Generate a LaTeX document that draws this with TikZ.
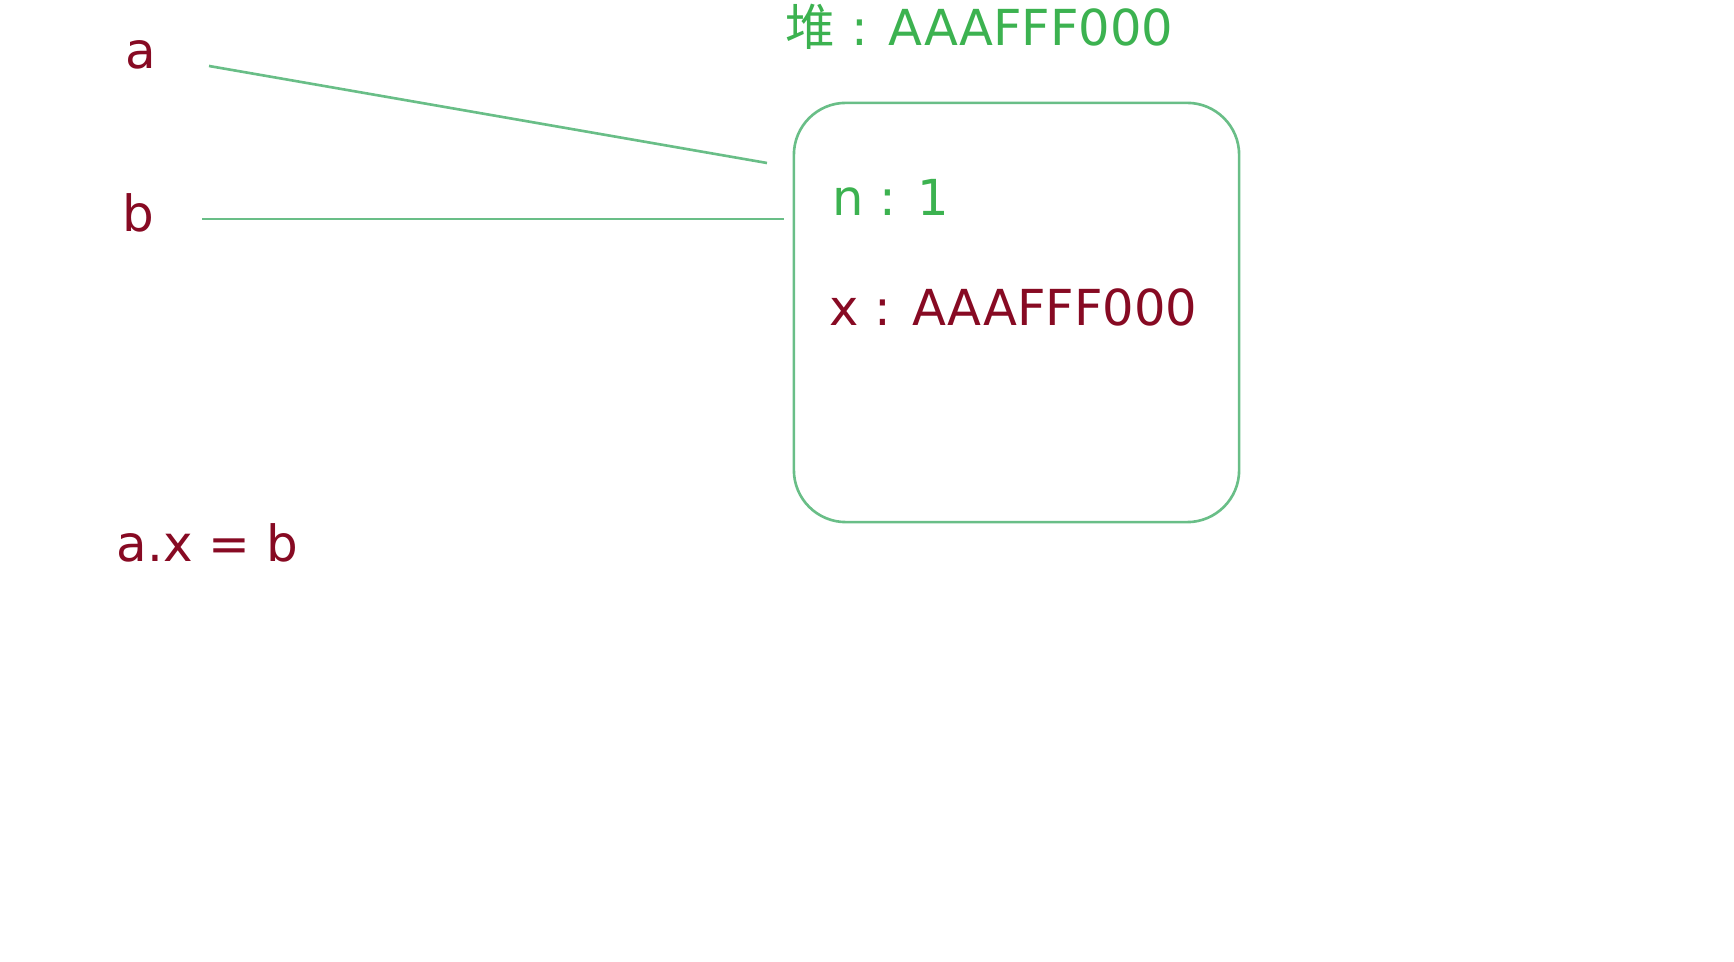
\documentclass[tikz,border=0pt]{standalone}
\usepackage{fontspec}
\setmainfont{DejaVu Sans}
\newfontfamily\cjk{Noto Sans CJK SC}
\usetikzlibrary{positioning}
\definecolor{heapgreen}{RGB}{60,178,80}
\definecolor{linegreen}{RGB}{105,190,135}
\definecolor{varred}{RGB}{135,10,35}

\begin{document}
\begin{tikzpicture}[x=0.01cm, y=-0.01cm,
    vartext/.style={text=varred, font=\fontsize{14.2}{17}\selectfont, inner sep=0pt, anchor=base west},
    heaptext/.style={text=heapgreen, font=\fontsize{14.1}{17}\selectfont, inner sep=0pt, anchor=base west},
    ref/.style={draw=linegreen, line width=0.75pt}]
  \useasboundingbox (0,0) rectangle (1734,962);

  % Variables
  \node[vartext] (a) at (125,69) {a};
  \node[vartext] (b) at (122,232) {b};
  \node[vartext] (assign) at (116,562) {a.x = b};

  % Heap object
  \node[draw=linegreen, line width=0.75pt, rounded corners=0.52cm,
        minimum width=4.45cm, minimum height=4.19cm] (heap) at (1016.5,312.5) {};
  \node[heaptext] (addr) at (785,46) {{\cjk 堆} : AAAFFF000};
  \node[heaptext] (n) at (832,216) {n : 1};
  \node[heaptext, text=varred] (x) at (829,326) {x : AAAFFF000};

  % References
  \coordinate (aend) at (767,163);
  \coordinate (bend) at (784,219);
  \draw[ref] (a.base east) ++(52,-3) -- (aend);
  \draw[ref] (b.base east) ++(47,-13) -- (bend);
\end{tikzpicture}
\end{document}
